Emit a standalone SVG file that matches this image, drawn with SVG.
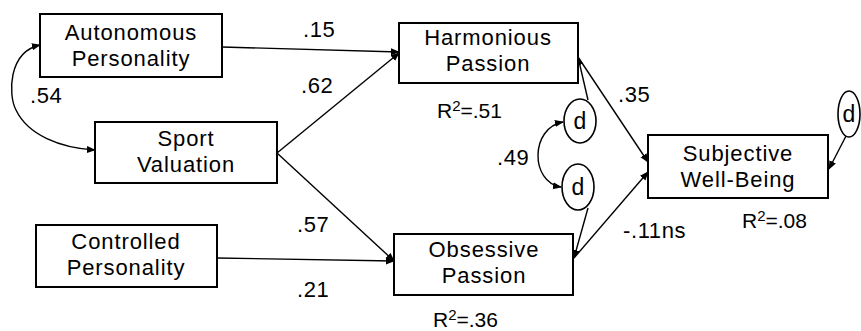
<svg xmlns="http://www.w3.org/2000/svg" width="861" height="331" viewBox="0 0 861 331">
<defs>
<marker id="ah" viewBox="0 0 10 10" refX="9" refY="5" markerWidth="9" markerHeight="9" markerUnits="userSpaceOnUse" orient="auto-start-reverse">
<path d="M0,1 L10,5 L0,9 Z" fill="#000"/>
</marker>
<style>
.box{fill:#fff;stroke:#000;stroke-width:2}
.el{fill:#fff;stroke:#000;stroke-width:1.6}
.t{font-family:"Liberation Sans",Arial,sans-serif;font-size:22px;letter-spacing:0.9px;fill:#000;text-anchor:middle}
.d{font-family:"Liberation Sans",Arial,sans-serif;font-size:23px;fill:#000;text-anchor:middle}
.l{font-family:"Liberation Sans",Arial,sans-serif;font-size:22px;letter-spacing:0.6px;fill:#000}
.c{fill:none;stroke:#000;stroke-width:1.4}
</style>
</defs>
<rect width="861" height="331" fill="#fff"/>
<g id="connectors">
<line class="c" x1="222" y1="47" x2="399" y2="52" marker-end="url(#ah)"/>
<line class="c" x1="277" y1="153" x2="399" y2="53" marker-end="url(#ah)"/>
<line class="c" x1="277" y1="153" x2="394" y2="261" marker-end="url(#ah)"/>
<line class="c" x1="217" y1="258" x2="394" y2="261" marker-end="url(#ah)"/>
<line class="c" x1="578" y1="57" x2="648" y2="162" marker-end="url(#ah)"/>
<line class="c" x1="574" y1="258" x2="648" y2="172" marker-end="url(#ah)"/>
<line class="c" x1="588" y1="100" x2="578" y2="57" marker-end="url(#ah)"/>
<line class="c" x1="588" y1="208" x2="574" y2="258" marker-end="url(#ah)"/>
<line class="c" x1="846" y1="136" x2="829" y2="169" marker-end="url(#ah)"/>
<path class="c" d="M40,45 C8,52 8,95 16,110 C28,135 60,148 95,150" marker-start="url(#ah)" marker-end="url(#ah)"/>
<path class="c" d="M563,122 C530,128 530,182 561,187" marker-start="url(#ah)" marker-end="url(#ah)"/>
</g>
<g id="autonomous">
<rect class="box" x="40" y="14" width="182" height="63"/>
<text class="t" x="131" y="40">Autonomous</text>
<text class="t" x="131" y="66">Personality</text>
</g>
<g id="sport">
<rect class="box" x="95" y="122" width="182" height="61"/>
<text class="t" x="186" y="146">Sport</text>
<text class="t" x="186" y="172">Valuation</text>
</g>
<g id="controlled">
<rect class="box" x="36" y="225" width="181" height="62"/>
<text class="t" x="126" y="249">Controlled</text>
<text class="t" x="126" y="275">Personality</text>
</g>
<g id="harmonious">
<rect class="box" x="399" y="23" width="179" height="60"/>
<text class="t" x="488" y="45">Harmonious</text>
<text class="t" x="488" y="71">Passion</text>
</g>
<g id="obsessive">
<rect class="box" x="394" y="234" width="179" height="61"/>
<text class="t" x="484" y="257">Obsessive</text>
<text class="t" x="484" y="283">Passion</text>
</g>
<g id="swb">
<rect class="box" x="648" y="135" width="180" height="63"/>
<text class="t" x="738" y="161">Subjective</text>
<text class="t" x="738" y="187">Well-Being</text>
</g>
<g id="d1">
<ellipse class="el" cx="580" cy="121" rx="16" ry="22"/>
<text class="d" x="580" y="129">d</text>
</g>
<g id="d2">
<ellipse class="el" cx="578" cy="187" rx="16" ry="23"/>
<text class="d" x="578" y="195">d</text>
</g>
<g id="d3">
<ellipse class="el" cx="849" cy="114" rx="11" ry="23"/>
<text class="d" x="849" y="122">d</text>
</g>
<g id="labels">
<text class="l" x="30" y="103">.54</text>
<text class="l" x="303" y="37">.15</text>
<text class="l" x="301" y="93">.62</text>
<text class="l" x="297" y="232">.57</text>
<text class="l" x="297" y="297">.21</text>
<text class="l" x="497" y="165">.49</text>
<text class="l" x="618" y="102">.35</text>
<text class="l" x="623" y="238">-.11ns</text>
<text class="l" x="437" y="118" style="font-size:21px;letter-spacing:0">R<tspan dy="-7" style="font-size:15px">2</tspan><tspan dy="7">=.51</tspan></text>
<text class="l" x="433" y="327" style="font-size:21px;letter-spacing:0">R<tspan dy="-7" style="font-size:15px">2</tspan><tspan dy="7">=.36</tspan></text>
<text class="l" x="742" y="228" style="font-size:21px;letter-spacing:0">R<tspan dy="-7" style="font-size:15px">2</tspan><tspan dy="7">=.08</tspan></text>
</g>
</svg>
